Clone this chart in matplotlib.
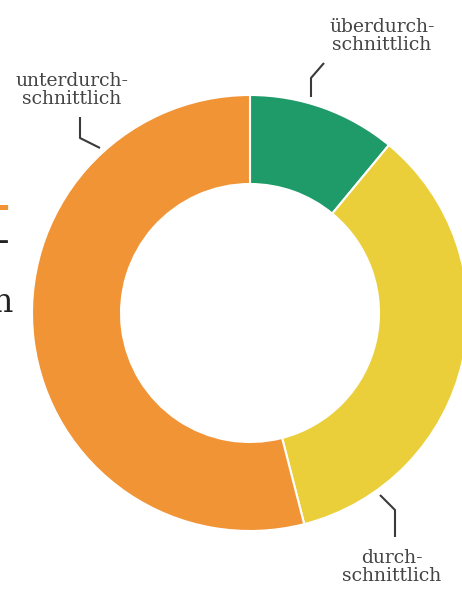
import matplotlib
matplotlib.use("Agg")
import matplotlib.pyplot as plt

W, H = 462, 590

labels = ["überdurch-\nschnittlich", "durch-\nschnittlich", "unterdurch-\nschnittlich"]
values = [11, 35, 54]
colors = ["#1f9a69", "#ebcf3a", "#f19436"]

plt.rcParams.update({"font.family": ["DejaVu Serif"], "font.size": 11})

fig = plt.figure(figsize=(W / 100, H / 100), dpi=100)
ax = fig.add_axes([0, 0, 1, 1])

cx, cy = 250, H - 313
r_out, r_in = 218, 129
ax.pie(values, colors=colors, startangle=90, counterclock=False,
       center=(cx, cy), radius=r_out,
       wedgeprops=dict(width=r_out - r_in, edgecolor="white", linewidth=1.5))
ax.set_xlim(0, W)
ax.set_ylim(0, H)
ax.set_aspect("equal")
ax.axis("off")

# leader lines and labels (pixel positions, y from top)
leaders = [
    [(311, 97), (311, 78), (324, 63)],
    [(380, 495), (395, 510), (395, 537)],
    [(100, 148), (80, 138), (80, 117)],
]
label_pos = [(382, 36), (392, 567), (72, 90)]
for pts, (tx, ty), lab in zip(leaders, label_pos, labels):
    xs = [p[0] for p in pts]
    ys = [H - p[1] for p in pts]
    ax.plot(xs, ys, color="#3a3a3a", lw=1.5, solid_capstyle="butt")
    ax.text(tx, H - ty, lab, ha="center", va="center", color="#444444",
            fontsize=13.5, linespacing=0.98)

# cut-off headline fragments on the left edge
fig.text(10 / W, 1 - 207 / H, "-", ha="right", va="center", fontsize=26,
         color="#f19436", fontweight="bold")
fig.text(9 / W, 1 - 242 / H, "-", ha="right", va="center", fontsize=24,
         color="#222222")
fig.text(13 / W, 1 - 312 / H, "h", ha="right", va="baseline", fontsize=24,
         color="#222222")

fig.savefig("out.png", dpi=100)
